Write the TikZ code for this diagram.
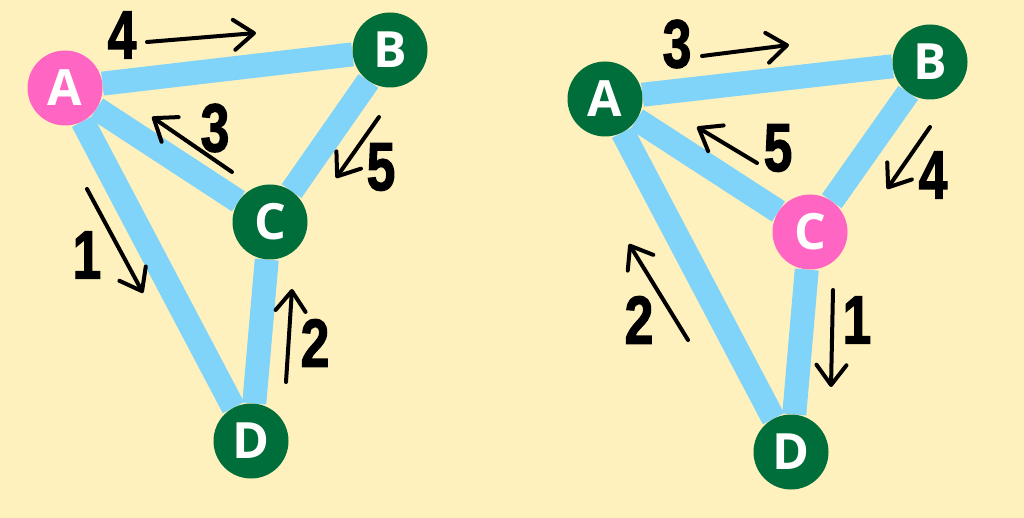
\documentclass[tikz,border=0pt]{standalone}
\usepackage{fontspec}
\usepackage{graphicx}
\usetikzlibrary{arrows.meta,backgrounds}
\newfontfamily\letterfont{Open Sans}
\newfontfamily\digitfont{Liberation Sans}[BoldFeatures={FakeBold=2}]
\definecolor{bgyellow}{HTML}{FFF1BD}
\definecolor{edgeblue}{HTML}{80D3F9}
\definecolor{vgreen}{HTML}{006E3A}
\definecolor{vpink}{HTML}{FF66C4}
\newcommand\dgt[1]{\scalebox{0.76}[1]{#1}}
\begin{document}
\begin{tikzpicture}[x=1pt,y=-1pt,
  vtx/.style={circle,minimum size=75pt,inner sep=0pt,text=white,
    font=\letterfont\bfseries\fontsize{50}{50}\selectfont},
  gvtx/.style={vtx,fill=vgreen},
  pvtx/.style={vtx,fill=vpink},
  linkline/.style={line width=24pt,draw=edgeblue},
  num/.style={inner sep=0pt,font=\digitfont\bfseries\fontsize{68}{68}\selectfont},
  mv/.style={line width=4pt,line cap=round,-{Straight Barb[length=20pt,width=30pt,round]}}]
% left graph
\node[pvtx] (lA) at (65,88) {A};
\node[gvtx] (lB) at (390,50) {B};
\node[gvtx] (lC) at (270,222) {C};
\node[gvtx] (lD) at (251,441) {D};
% right graph
\node[gvtx] (rA) at (605,99) {A};
\node[gvtx] (rB) at (930,62) {B};
\node[pvtx] (rC) at (810,232) {C};
\node[gvtx] (rD) at (791,452) {D};
\begin{scope}[on background layer]
\fill[bgyellow] (0,0) rectangle (1024,518);
\draw[linkline] (lA) -- (lB);
\draw[linkline] (lA) -- (lC);
\draw[linkline] (lA) -- (lD);
\draw[linkline] (lB) -- (lC);
\draw[linkline] (lC) -- (lD);
\draw[linkline] (rA) -- (rB);
\draw[linkline] (rA) -- (rC);
\draw[linkline] (rA) -- (rD);
\draw[linkline] (rB) -- (rC);
\draw[linkline] (rC) -- (rD);
\end{scope}
% left labels
\node[num] (l4) at (122,35) {\dgt{4}};
\node[num] (l3) at (215,128) {\dgt{3}};
\node[num] (l5) at (381,167) {\dgt{5}};
\node[num] (l1) at (87,255) {\dgt{1}};
\node[num] (l2) at (315,343) {\dgt{2}};
\coordinate (l4s) at (147,42); \coordinate (l4e) at (256,33);
\coordinate (l3s) at (232,172); \coordinate (l3e) at (152,117);
\coordinate (l5s) at (379,117); \coordinate (l5e) at (336,178);
\coordinate (l1s) at (87,189); \coordinate (l1e) at (143,293);
\coordinate (l2s) at (286,382); \coordinate (l2e) at (292,289);
\draw[mv] (l4s) -- (l4e);
\draw[mv] (l3s) -- (l3e);
\draw[mv] (l5s) -- (l5e);
\draw[mv] (l1s) -- (l1e);
\draw[mv] (l2s) -- (l2e);
% right labels
\node[num] (r3) at (677,44) {\dgt{3}};
\node[num] (r5) at (778,148) {\dgt{5}};
\node[num] (r4) at (933,175) {\dgt{4}};
\node[num] (r2) at (639,320) {\dgt{2}};
\node[num] (r1) at (857,320) {\dgt{1}};
\coordinate (r3s) at (702,56); \coordinate (r3e) at (789,45);
\coordinate (r5s) at (757,163); \coordinate (r5e) at (697,127);
\coordinate (r4s) at (930,127); \coordinate (r4e) at (887,189);
\coordinate (r2s) at (688,340); \coordinate (r2e) at (629,244);
\coordinate (r1s) at (833,290); \coordinate (r1e) at (831,387);
\draw[mv] (r3s) -- (r3e);
\draw[mv] (r5s) -- (r5e);
\draw[mv] (r4s) -- (r4e);
\draw[mv] (r2s) -- (r2e);
\draw[mv] (r1s) -- (r1e);
\end{tikzpicture}
\end{document}
